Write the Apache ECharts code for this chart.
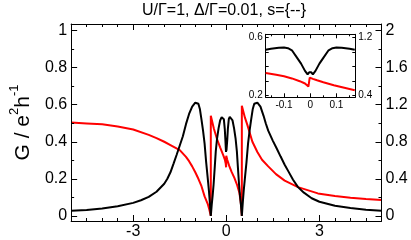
<!DOCTYPE html>
<html><head><meta charset="utf-8">
<script src="https://cdn.jsdelivr.net/npm/echarts@6/dist/echarts.min.js"></script>
<style>html,body{margin:0;padding:0;background:#fff}#c{width:411px;height:240px}</style>
</head><body><div id="c"></div>
<script>
// ---- main panel data ----
const blackX = [-5,-4.5,-4,-3.5,-3,-2.75,-2.5,-2.25,-2,-1.9,-1.8,-1.7,-1.6,-1.5,-1.4,-1.3,-1.2,-1.1,-1,-0.95,-0.9,-0.85,-0.8,-0.75,-0.7,-0.65,-0.6,-0.56,-0.53,-0.5,-0.47,-0.44,-0.41,-0.37,-0.34,-0.3,-0.25,-0.2,-0.15,-0.11,-0.08,-0.05,-0.03,-0.015,-0.009,-0.004,0,0.004,0.009,0.015,0.03,0.05,0.08,0.11,0.15,0.2,0.25,0.3,0.34,0.37,0.41,0.44,0.47,0.5,0.53,0.56,0.6,0.65,0.7,0.75,0.8,0.85,0.9,0.95,1,1.1,1.2,1.27,1.35,1.5,1.62,1.75,1.88,2,2.15,2.31,2.5,2.75,3,3.5,4,4.5,5];
const blackY = [0.027,0.032,0.04,0.052,0.07,0.084,0.102,0.13,0.173,0.2,0.235,0.282,0.33,0.38,0.43,0.495,0.55,0.59,0.611,0.615,0.605,0.575,0.52,0.46,0.39,0.29,0.205,0.135,0.07,0,0.06,0.11,0.169,0.27,0.348,0.415,0.472,0.515,0.533,0.535,0.522,0.47,0.41,0.36,0.345,0.352,0.368,0.352,0.345,0.36,0.41,0.47,0.522,0.535,0.533,0.515,0.472,0.415,0.348,0.27,0.169,0.11,0.06,0,0.07,0.135,0.205,0.29,0.39,0.46,0.52,0.575,0.605,0.615,0.611,0.59,0.54,0.5,0.46,0.405,0.365,0.32,0.276,0.24,0.195,0.155,0.125,0.095,0.076,0.054,0.042,0.033,0.027];
const redX = [-5,-4.5,-4,-3.5,-3,-2.5,-2.25,-2,-1.8,-1.5,-1.3,-1.2,-1.1,-1,-0.9,-0.8,-0.7,-0.6,-0.55,-0.5,-0.5,-0.4,-0.3,-0.2,-0.1,-0.05,-0.02,-0.007,-0.002,0.03,0.09,0.17,0.26,0.35,0.42,0.46,0.48,0.5,0.5,0.6,0.68,0.84,1,1.15,1.35,1.6,1.88,2.31,2.95,3.5,4,4.5,5];
const redY = [1.008,0.998,0.988,0.964,0.932,0.874,0.84,0.8,0.764,0.71,0.636,0.59,0.534,0.47,0.4,0.32,0.21,0.13,0.07,0,1.08,0.94,0.83,0.74,0.656,0.61,0.566,0.524,0.648,0.606,0.542,0.474,0.41,0.33,0.25,0.16,0.1,0,1.188,1.06,0.98,0.8,0.69,0.606,0.534,0.45,0.38,0.31,0.242,0.214,0.196,0.182,0.17];
// ---- inset data ----
const insetBlackX = [-0.17,-0.15,-0.12,-0.1,-0.085,-0.07,-0.05,-0.035,-0.02,-0.01,-0.004,0,0.004,0.01,0.02,0.035,0.05,0.07,0.085,0.1,0.12,0.15,0.17];
const insetBlackY = [0.515,0.522,0.53,0.531,0.526,0.512,0.46,0.42,0.37,0.346,0.36,0.37,0.36,0.346,0.37,0.42,0.46,0.512,0.526,0.531,0.53,0.522,0.515];
const insetRedX = [-0.17,-0.13,-0.1,-0.07,-0.04,-0.02,-0.007,-0.002,0.01,0.026,0.05,0.09,0.13,0.17];
const insetRedY = [0.712,0.686,0.666,0.636,0.598,0.566,0.524,0.648,0.63,0.61,0.584,0.542,0.508,0.474];
// ---- ticks ----
const mainXMajor = [-3,0,3];
const mainXMinor = [-4.5,-4,-3.5,-2.5,-2,-1.5,-1,-0.5,0.5,1,1.5,2,2.5,3.5,4,4.5];
const leftMajor = [0,0.2,0.4,0.6,0.8,1];
const leftMinor = [0.1,0.3,0.5,0.7,0.9];
const rightMajor = [0,0.4,0.8,1.2,1.6,2];
const rightMinor = [0.2,0.6,1,1.4,1.8];
const insetXMajor = [-0.1,0,0.1];
const insetXMinor = [-0.15,-0.05,0.05,0.15];
const insetLeftLabels = [0.2,0.6];
const insetLeftTicks = [0.2,0.3,0.4,0.5,0.6];
const insetRightLabels = [0.4,1.2];
const insetRightTicks = [0.4,0.6,0.8,1,1.2];

const FONT = '"Liberation Sans", Arial, Helvetica, sans-serif';
function ax(o){
  return {
    type:'value', gridIndex:o.g, position:o.pos, min:o.min, max:o.max,
    axisLine:{show:!!o.line, onZero:false, lineStyle:{color:'#000', width:1}},
    axisTick:{show:true, inside:true, length:o.len, customValues:o.ticks, lineStyle:{color:'#000', width:1}},
    axisLabel:{show:!!o.labels, customValues:o.labels||[], margin:o.margin||4, color:'#000', fontSize:o.fs||16, fontFamily:FONT},
    splitLine:{show:false}, minorTick:{show:false}, z: 5
  };
}
const XM=[-5,5], YL=[-0.028,1.036], YR=[-0.056,2.072];
const IX=[-0.17,0.172], IYL=[0.188,0.622], IYR=[0.376,1.244];
const xAxes = [
  ax({g:0,pos:'bottom',min:XM[0],max:XM[1],line:1,len:6,ticks:mainXMajor,labels:mainXMajor,margin:3}),
  ax({g:0,pos:'bottom',min:XM[0],max:XM[1],len:3,ticks:mainXMinor}),
  ax({g:0,pos:'top',min:XM[0],max:XM[1],line:1,len:6,ticks:mainXMajor}),
  ax({g:0,pos:'top',min:XM[0],max:XM[1],len:3,ticks:mainXMinor}),
  ax({g:1,pos:'bottom',min:IX[0],max:IX[1],line:1,len:4,ticks:insetXMajor,labels:insetXMajor,fs:10,margin:3}),
  ax({g:1,pos:'bottom',min:IX[0],max:IX[1],len:2,ticks:insetXMinor}),
  ax({g:1,pos:'top',min:IX[0],max:IX[1],line:1,len:4,ticks:insetXMajor}),
  ax({g:1,pos:'top',min:IX[0],max:IX[1],len:2,ticks:insetXMinor})
];
const yAxes = [
  ax({g:0,pos:'left',min:YL[0],max:YL[1],line:1,len:6,ticks:leftMajor,labels:leftMajor}),
  ax({g:0,pos:'left',min:YL[0],max:YL[1],len:3,ticks:leftMinor}),
  ax({g:0,pos:'right',min:YR[0],max:YR[1],line:1,len:6,ticks:rightMajor,labels:rightMajor}),
  ax({g:0,pos:'right',min:YR[0],max:YR[1],len:3,ticks:rightMinor}),
  ax({g:1,pos:'left',min:IYL[0],max:IYL[1],line:1,len:3,ticks:insetLeftTicks,labels:insetLeftLabels,fs:10,margin:3}),
  ax({g:1,pos:'right',min:IYR[0],max:IYR[1],line:1,len:3,ticks:insetRightTicks,labels:insetRightLabels,fs:10,margin:3})
];
yAxes[0].name = '{m|G / e}{s|2}{m|h}{s|-1}';
yAxes[0].nameLocation = 'middle';
yAxes[0].nameRotate = 90;
yAxes[0].nameGap = 30;
yAxes[0].nameTextStyle = {color:'#000', fontFamily:FONT, rich:{
  m:{fontSize:21, fontFamily:FONT, color:'#000', lineHeight:26, verticalAlign:'bottom'},
  s:{fontSize:13, fontFamily:FONT, color:'#000', lineHeight:26, verticalAlign:'top'}
}};
const zip = (a,b)=>a.map((x,i)=>[x,b[i]]);
const line = (xi,yi,data,color,z)=>({type:'line', xAxisIndex:xi, yAxisIndex:yi, data, showSymbol:false, symbol:'none',
  lineStyle:{color, width:2}, itemStyle:{color}, animation:false, z:z||2, clip:true});
const chart = echarts.init(document.getElementById('c'), null, {renderer:'canvas'});
chart.setOption({
  animation:false,
  backgroundColor:'#fff',
  grid:[
    {left:66, top:24, width:315.5, height:199.5, show:false},
    {left:265.7, top:34.3, width:89.6, height:63, show:true, backgroundColor:'#fff', borderWidth:0, z:4}
  ],
  graphic:[{type:'text', x:224, y:11, style:{text:'U/Γ=1, Δ/Γ=0.01, s={--}', font:'16px '+FONT, fill:'#000', align:'center', verticalAlign:'middle'}}],
  xAxis:xAxes, yAxis:yAxes,
  series:[
    line(0,2,zip(redX,redY),'#ff0000',2),
    line(0,0,zip(blackX,blackY),'#000000',3),
    line(4,5,zip(insetRedX,insetRedY),'#ff0000',6),
    line(4,4,zip(insetBlackX,insetBlackY),'#000000',6)
  ]
});
</script></body></html>
